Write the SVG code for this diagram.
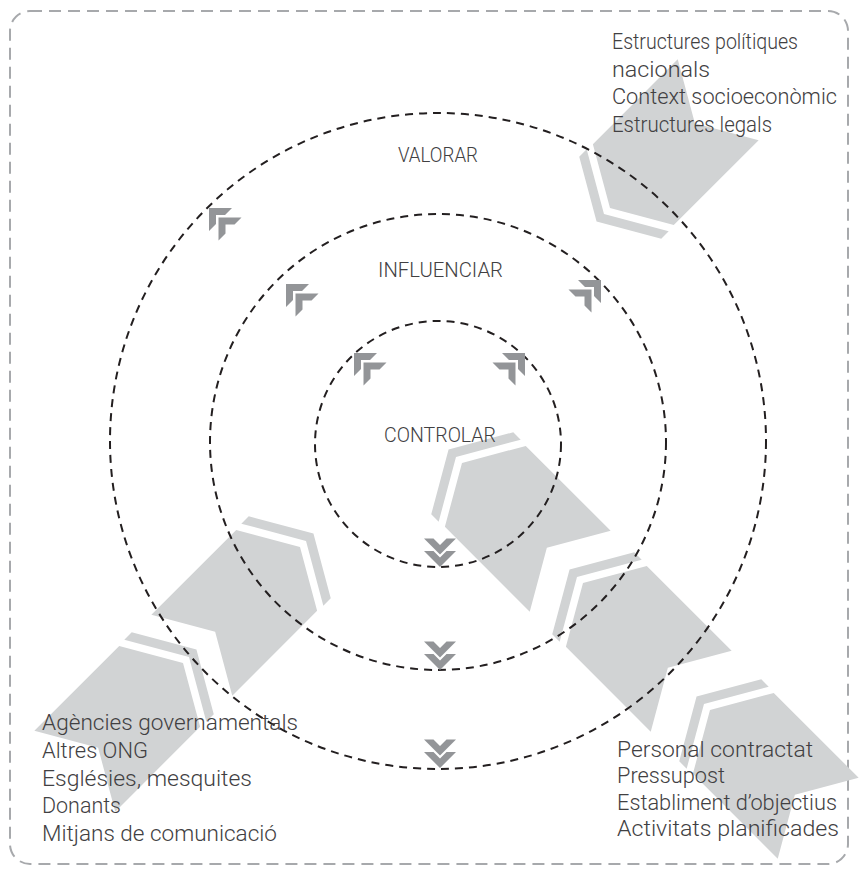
<svg xmlns="http://www.w3.org/2000/svg" width="859" height="874" viewBox="0 0 859 874">
<style>
.shape{fill:#d1d3d4}
.mk{fill:#939598}
.ring{fill:none;stroke:#231f20;stroke-width:2;stroke-dasharray:8 6}
.frame{fill:none;stroke:#a7a9ac;stroke-width:2;stroke-dasharray:12 7}
text{font-family:Roboto,"Liberation Sans",sans-serif;font-weight:300;font-size:22px;fill:#414042}
.lbl{text-anchor:middle;font-size:21px}
</style>
<defs>
<g id="arrow">
<polygon class="shape" points="0,0 33,-57.2 153,-57.2 120,0 153,57.2 33,57.2"/>
<polygon class="shape" points="-19,0 14.5,-58 25,-58 -8.5,0 25,58 14.5,58"/>
</g>
<path id="gam" class="mk" d="M0,0H23L16,7H7V16L0,23Z"/>
<g id="gam2"><use href="#gam"/><use href="#gam" x="9.5" y="9.5"/></g>
<path id="chev" class="mk" d="M0,0L16,-16H6.5L0,-9.5L-6.5,-16H-16Z"/>
<g id="chev2"><use href="#chev"/><use href="#chev" y="-12.5"/></g>
</defs>
<rect class="frame" x="10" y="11" width="838" height="853" rx="20"/>
<g id="arrows">
<g id="arrow-tr"><use href="#arrow" transform="translate(610,208) rotate(-45)"/></g>
<g id="arrow-c"><use href="#arrow" transform="translate(462,463) rotate(45)"/></g>
<g id="arrow-br1"><use href="#arrow" transform="translate(583,583) rotate(45)"/></g>
<g id="arrow-br2"><use href="#arrow" transform="translate(710,710) rotate(45)"/></g>
<g id="arrow-lm"><use href="#arrow" transform="translate(300,547) rotate(135)"/></g>
<g id="arrow-bl"><use href="#arrow" transform="translate(183,663) rotate(135)"/></g>
</g>
<g id="rings">
<circle id="ring-outer" class="ring" cx="438" cy="441" r="328"/>
<circle id="ring-middle" class="ring" cx="438" cy="442" r="228"/>
<circle id="ring-inner" class="ring" cx="438" cy="444" r="123"/>
</g>
<g id="connectors">
<use href="#gam2" transform="translate(209,208)"/>
<use href="#gam2" transform="translate(286,284)"/>
<use href="#gam2" transform="translate(354,353)"/>
<use href="#gam2" transform="translate(525,353) scale(-1,1)"/>
<use href="#gam2" transform="translate(601,280) scale(-1,1)"/>
<use href="#chev2" transform="translate(440,567)"/>
<use href="#chev2" transform="translate(440,670)"/>
<use href="#chev2" transform="translate(440,768)"/>
</g>
<g id="labels">
<text class="lbl" x="438" y="162" textLength="80" lengthAdjust="spacingAndGlyphs">VALORAR</text>
<text class="lbl" x="440.5" y="277" textLength="125" lengthAdjust="spacingAndGlyphs">INFLUENCIAR</text>
<text class="lbl" x="440" y="442" textLength="112" lengthAdjust="spacingAndGlyphs">CONTROLAR</text>
</g>
<g id="text-tr">
<text x="612" y="49" textLength="186" lengthAdjust="spacingAndGlyphs">Estructures polítiques</text>
<text x="612" y="76.6" textLength="98" lengthAdjust="spacingAndGlyphs">nacionals</text>
<text x="612" y="104.3" textLength="225" lengthAdjust="spacingAndGlyphs">Context socioeconòmic</text>
<text x="612" y="132" textLength="160" lengthAdjust="spacingAndGlyphs">Estructures legals</text>
</g>
<g id="text-bl">
<text x="42" y="730" textLength="256" lengthAdjust="spacingAndGlyphs">Agències governamentals</text>
<text x="42" y="757.8" textLength="106" lengthAdjust="spacingAndGlyphs">Altres ONG</text>
<text x="42" y="785.6" textLength="210" lengthAdjust="spacingAndGlyphs">Esglésies, mesquites</text>
<text x="42" y="813.4" textLength="79" lengthAdjust="spacingAndGlyphs">Donants</text>
<text x="42" y="841.2" textLength="235" lengthAdjust="spacingAndGlyphs">Mitjans de comunicació</text>
</g>
<g id="text-br">
<text x="617" y="757" textLength="196" lengthAdjust="spacingAndGlyphs">Personal contractat</text>
<text x="617" y="783.3" textLength="108" lengthAdjust="spacingAndGlyphs">Pressupost</text>
<text x="617" y="810" textLength="220" lengthAdjust="spacingAndGlyphs">Establiment d’objectius</text>
<text x="617" y="836" textLength="222" lengthAdjust="spacingAndGlyphs">Activitats planificades</text>
</g>
</svg>
